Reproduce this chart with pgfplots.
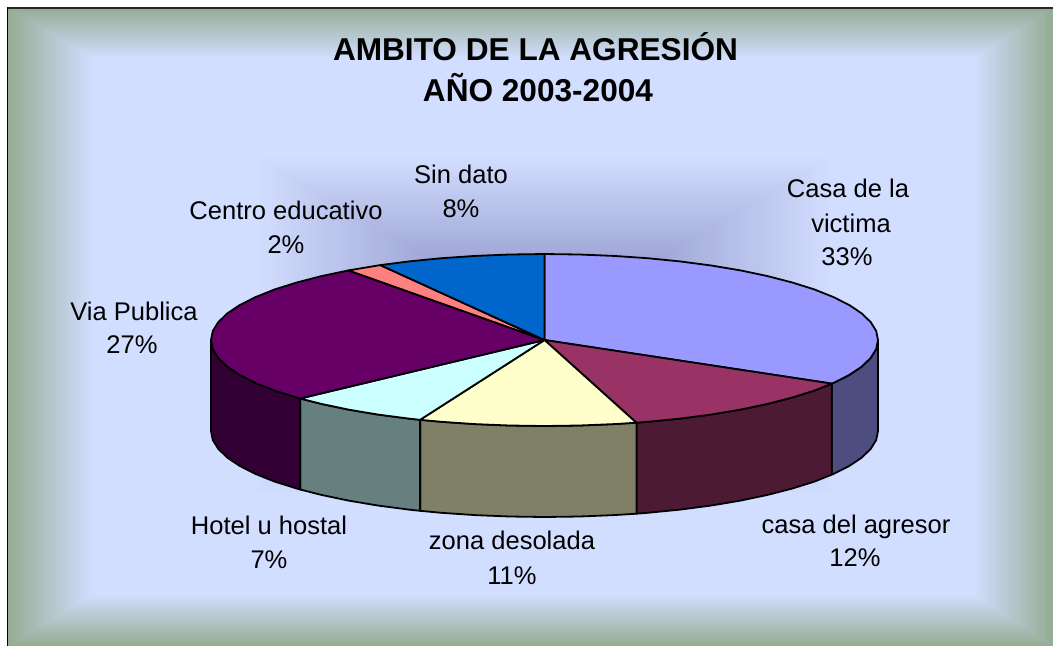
\documentclass[border=0pt]{standalone}
\usepackage{pgfplots}
\pgfplotsset{compat=1.18}
\usepackage{fontspec}
\setmainfont{Liberation Sans}
\definecolor{bgin}{RGB}{210,222,255}
\definecolor{bgout}{RGB}{150,172,148}
\definecolor{shdark}{RGB}{128,131,188}
\definecolor{c1}{RGB}{153,153,255}\definecolor{s1}{RGB}{77,77,128}
\definecolor{c2}{RGB}{153,51,102}\definecolor{s2}{RGB}{77,26,51}
\definecolor{c3}{RGB}{255,255,204}\definecolor{s3}{RGB}{128,128,102}
\definecolor{c4}{RGB}{204,255,255}\definecolor{s4}{RGB}{102,128,128}
\definecolor{c5}{RGB}{102,0,102}\definecolor{s5}{RGB}{51,0,51}
\definecolor{c6}{RGB}{255,128,128}
\definecolor{c7}{RGB}{0,102,204}
\begin{document}
\begin{tikzpicture}
\begin{scope}[x=0.75pt,y=-0.75pt]
\fill[white] (0,0) rectangle (1053,646);
\foreach \n in {0,...,41}{
  \pgfmathsetmacro{\t}{\n/42}
  \pgfmathsetmacro{\p}{100*\t}
  \fill[bgin!\p!bgout] ({8+84*\t},{8+50*\t}) rectangle ({1053-78*\t},{646-51*\t});
}
\fill[bgin] (92,58) rectangle (975,595);
\foreach \n in {0,...,44}{
  \pgfmathsetmacro{\t}{\n/45}
  \pgfmathsetmacro{\p}{100*\t+2}
  \fill[shdark!\p!bgin] ({258+286*\t},{158+167*\t}) rectangle ({830-286*\t},{492-167*\t});
}
\fill[black!85] (7,7) rectangle (1053,8.5);
\fill[black] (6.5,7) rectangle (8,646);
\end{scope}
\begin{axis}[at={(0,-484.5pt)},anchor=south west,scale only axis,width=789.75pt,height=484.5pt,
  xmin=0,xmax=1053,ymin=0,ymax=646,y dir=reverse,axis lines=none,
  every axis plot/.append style={draw=black,line width=1.35pt,line join=round}]
% side faces
\addplot[fill=s1] coordinates {(878,340)(876.2,349)(870.7,357.9)(861.7,366.6)(849.2,375)(833.3,383)(831.8,383.6)(831.8,474.6)(833.3,474)(849.2,466)(861.7,457.6)(870.7,448.9)(876.2,440)(878,431)} --cycle;
\addplot[fill=s2] coordinates {(831.8,383.6)(814.3,390.6)(792.3,397.5)(767.6,403.9)(740.5,409.6)(711.3,414.5)(680.1,418.6)(647.6,421.8)(636.4,422.7)(636.4,513.7)(647.6,512.8)(680.1,509.6)(711.3,505.5)(740.5,500.6)(767.6,494.9)(792.3,488.5)(814.3,481.6)(831.8,474.6)} --cycle;
\addplot[fill=s3] coordinates {(636.4,422.7)(613.8,424.1)(579.4,425.5)(544.5,426)(509.6,425.5)(475.2,424.1)(441.4,421.8)(420.1,419.8)(420.1,510.8)(441.4,512.8)(475.2,515.1)(509.6,516.5)(544.5,517)(579.4,516.5)(613.8,515.1)(636.4,513.7)} --cycle;
\addplot[fill=s4] coordinates {(420.1,419.8)(408.9,418.6)(377.7,414.5)(348.5,409.6)(321.4,403.9)(300.2,398.5)(300.2,489.5)(321.4,494.9)(348.5,500.6)(377.7,505.5)(408.9,509.6)(420.1,510.8)} --cycle;
\addplot[fill=s5] coordinates {(300.2,398.5)(296.7,397.5)(274.7,390.6)(255.7,383)(239.8,375)(227.3,366.6)(218.3,357.9)(212.8,349)(211,340)(211,431)(212.8,440)(218.3,448.9)(227.3,457.6)(239.8,466)(255.7,474)(274.7,481.6)(296.7,488.5)(300.2,489.5)} --cycle;
% top faces
\addplot[fill=c1] coordinates {(544.5,340)(544.5,254)(579.4,254.5)(613.8,255.9)(647.6,258.2)(680.1,261.4)(711.3,265.5)(740.5,270.4)(767.6,276.1)(792.3,282.5)(814.3,289.4)(833.3,297)(849.2,305)(861.7,313.4)(870.7,322.1)(876.2,331)(878,340)(876.2,349)(870.7,357.9)(861.7,366.6)(849.2,375)(833.3,383)(831.8,383.6)} --cycle;
\addplot[fill=c2] coordinates {(544.5,340)(831.8,383.6)(814.3,390.6)(792.3,397.5)(767.6,403.9)(740.5,409.6)(711.3,414.5)(680.1,418.6)(647.6,421.8)(636.4,422.7)} --cycle;
\addplot[fill=c3] coordinates {(544.5,340)(636.4,422.7)(613.8,424.1)(579.4,425.5)(544.5,426)(509.6,425.5)(475.2,424.1)(441.4,421.8)(420.1,419.8)} --cycle;
\addplot[fill=c4] coordinates {(544.5,340)(420.1,419.8)(408.9,418.6)(377.7,414.5)(348.5,409.6)(321.4,403.9)(300.2,398.5)} --cycle;
\addplot[fill=c5] coordinates {(544.5,340)(300.2,398.5)(296.7,397.5)(274.7,390.6)(255.7,383)(239.8,375)(227.3,366.6)(218.3,357.9)(212.8,349)(211,340)(212.8,331)(218.3,322.1)(227.3,313.4)(239.8,305)(255.7,297)(274.7,289.4)(296.7,282.5)(321.4,276.1)(348.5,270.4)} --cycle;
\addplot[fill=c6] coordinates {(544.5,340)(348.5,270.4)(377.7,265.5)(380.3,265.1)} --cycle;
\addplot[fill=c7] coordinates {(544.5,340)(380.3,265.1)(408.9,261.4)(441.4,258.2)(475.2,255.9)(509.6,254.5)(544.5,254)} --cycle;
% text
\def\T#1#2#3{\node[anchor=base,inner sep=0pt,font=\fontsize{19.15pt}{20pt}\selectfont] at (axis cs:#1,#2) {#3};}
\node[anchor=base,inner sep=0pt,font=\fontsize{23.7pt}{25pt}\selectfont\bfseries] at (axis cs:535.5,60) {AMBITO DE LA AGRESIÓN};
\node[anchor=base,inner sep=0pt,font=\fontsize{23.7pt}{25pt}\selectfont\bfseries] at (axis cs:538,101) {AÑO 2003-2004};
\T{461}{183}{Sin dato}
\T{461}{217}{8\%}
\T{286}{219}{Centro educativo}
\T{286}{253}{2\%}
\T{848}{197}{Casa de la}
\T{851}{232}{victima}
\T{847}{265}{33\%}
\T{134}{320}{Via Publica}
\T{132}{353}{27\%}
\T{856}{533}{casa del agresor}
\T{855}{566}{12\%}
\T{512}{549}{zona desolada}
\T{512}{584}{11\%}
\T{269}{534}{Hotel u hostal}
\T{269}{568}{7\%}
\end{axis}
\end{tikzpicture}
\end{document}
